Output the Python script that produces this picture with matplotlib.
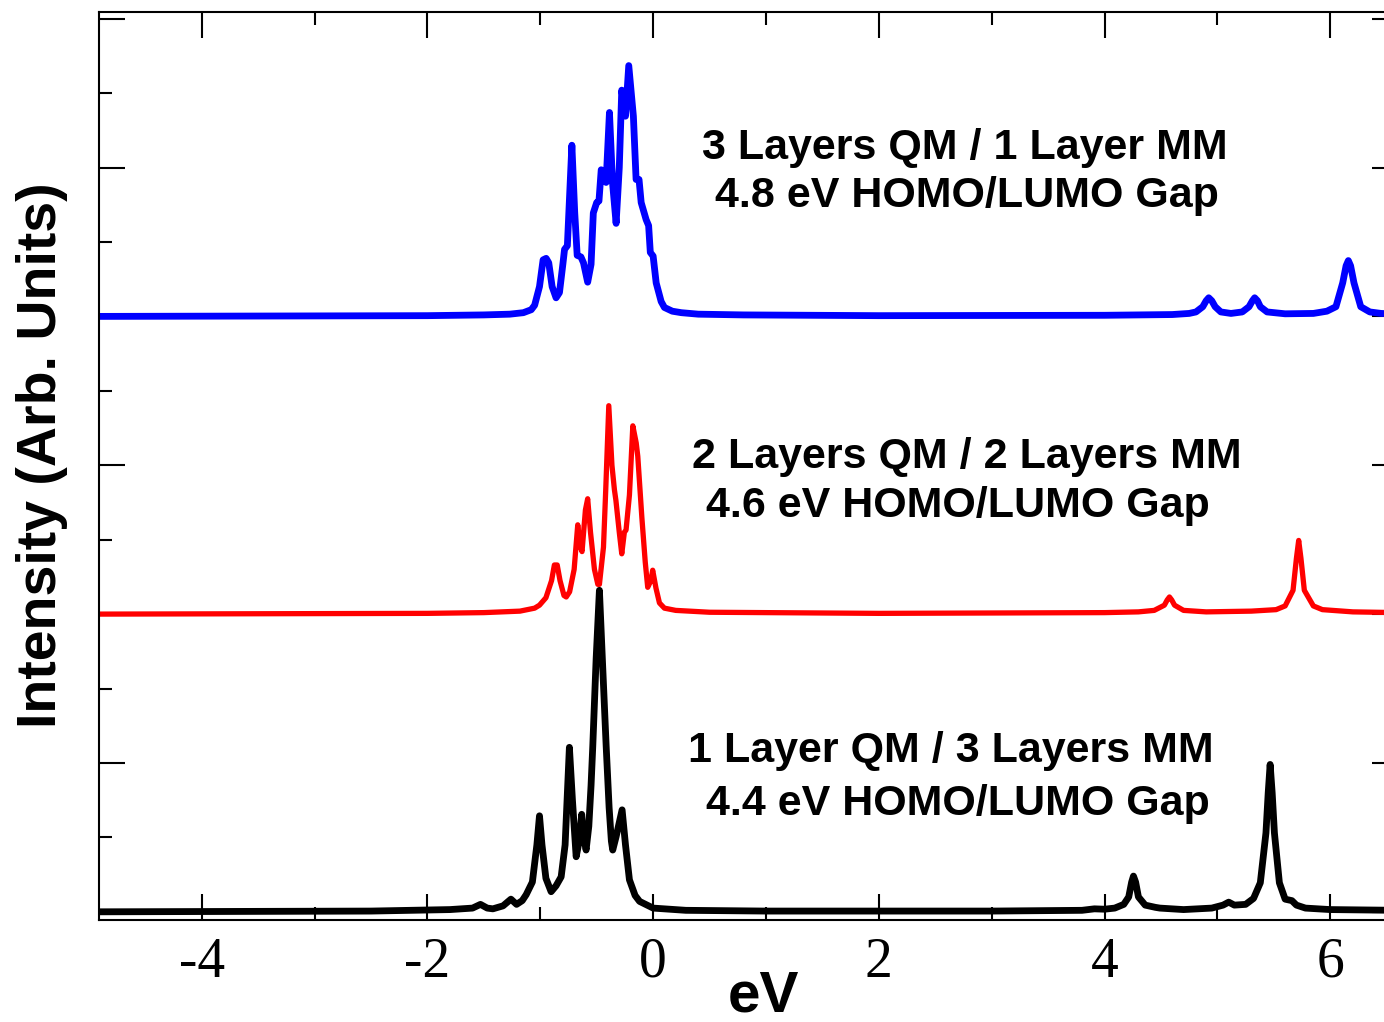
import numpy as np
import matplotlib.pyplot as plt
from matplotlib.ticker import MultipleLocator

plt.rcParams['axes.unicode_minus'] = False

# traced spectra: energy (eV) and height above each curve's own baseline (tick units)
blue_x = [-4.91, -2.0, -1.5, -1.27, -1.15, -1.08, -1.05, -1.007, -0.975, -0.948, -0.925, -0.895,
          -0.86, -0.83, -0.80, -0.785, -0.76, -0.72, -0.695, -0.673, -0.64, -0.617, -0.58,
          -0.55, -0.53, -0.50, -0.48, -0.46, -0.417, -0.387, -0.36, -0.328, -0.30, -0.278,
          -0.245, -0.216, -0.175, -0.151, -0.125, -0.106, -0.062, -0.04, -0.025, 0.0, 0.027,
          0.071, 0.10, 0.17, 0.25, 0.4, 0.8, 2.0, 4.0, 4.6, 4.75, 4.81, 4.87, 4.90, 4.923,
          4.95, 4.98, 5.03, 5.12, 5.22, 5.28, 5.31, 5.33, 5.355, 5.38, 5.44, 5.6, 5.85, 5.97,
          6.05, 6.11, 6.14, 6.16, 6.18, 6.21, 6.27, 6.35, 6.45, 6.6]
blue_y = [0.0, 0.01, 0.02, 0.03, 0.05, 0.09, 0.15, 0.40, 0.76, 0.78, 0.72, 0.40,
          0.25, 0.32, 0.70, 0.90, 0.95, 2.30, 1.40, 0.82, 0.80, 0.72, 0.46,
          0.70, 1.39, 1.53, 1.55, 1.97, 1.80, 2.74, 1.80, 1.25, 2.00, 3.04,
          2.69, 3.37, 2.69, 1.84, 1.84, 1.53, 1.30, 1.22, 0.86, 0.81, 0.45,
          0.20, 0.12, 0.07, 0.05, 0.03, 0.02, 0.01, 0.015, 0.025, 0.04, 0.06, 0.13, 0.21, 0.25,
          0.21, 0.13, 0.06, 0.04, 0.06, 0.13, 0.21, 0.25, 0.21, 0.13, 0.06, 0.035, 0.04, 0.07,
          0.13, 0.45, 0.68, 0.75, 0.68, 0.45, 0.13, 0.06, 0.04, 0.03]

red_x = [-4.91, -2.0, -1.5, -1.18, -1.05, -1.007, -0.95, -0.90, -0.875, -0.85, -0.825,
         -0.79, -0.77, -0.74, -0.70, -0.668, -0.645, -0.63, -0.60, -0.58, -0.555, -0.52,
         -0.49, -0.476, -0.44, -0.42, -0.393, -0.365, -0.343, -0.33, -0.30, -0.278, -0.255,
         -0.24, -0.21, -0.18, -0.15, -0.136, -0.10, -0.07, -0.048, -0.02, -0.004, 0.025,
         0.056, 0.10, 0.20, 0.50, 2.0, 4.0, 4.30, 4.44, 4.53, 4.555, 4.575, 4.595, 4.62,
         4.70, 4.9, 5.3, 5.52, 5.60, 5.67, 5.70, 5.72, 5.74, 5.77, 5.85, 5.93, 6.2, 6.6]
red_y = [0.0, 0.01, 0.02, 0.04, 0.08, 0.12, 0.22, 0.45, 0.66, 0.66, 0.45,
         0.25, 0.23, 0.30, 0.60, 1.20, 0.90, 0.84, 1.40, 1.55, 1.10, 0.60,
         0.40, 0.40, 0.90, 1.67, 2.80, 2.00, 1.67, 1.53, 1.10, 0.81, 1.10,
         1.13, 1.60, 2.53, 2.30, 2.12, 1.30, 0.70, 0.36, 0.45, 0.59, 0.35,
         0.15, 0.08, 0.05, 0.025, 0.01, 0.02, 0.03, 0.05, 0.12, 0.19, 0.23, 0.19, 0.12,
         0.05, 0.03, 0.04, 0.06, 0.11, 0.32, 0.75, 0.99, 0.75, 0.32, 0.11, 0.06, 0.03, 0.02]

black_x = [-4.91, -2.5, -1.8, -1.6, -1.53, -1.47, -1.42, -1.33, -1.26, -1.21, -1.16,
           -1.125, -1.07, -1.03, -1.007, -0.985, -0.95, -0.904, -0.86, -0.815, -0.78,
           -0.742, -0.715, -0.682, -0.655, -0.633, -0.615, -0.594, -0.57, -0.55, -0.535,
           -0.505, -0.476, -0.45, -0.416, -0.39, -0.37, -0.358, -0.328, -0.275, -0.245,
           -0.21, -0.16, -0.12, 0.0, 0.29, 1.0, 3.0, 3.8, 3.91, 4.0, 4.09, 4.17, 4.214,
           4.24, 4.256, 4.275, 4.30, 4.36, 4.45, 4.49, 4.7, 4.95, 5.05, 5.10, 5.15, 5.25,
           5.32, 5.38, 5.43, 5.45, 5.467, 5.485, 5.505, 5.549, 5.60, 5.66, 5.70, 5.78,
           6.0, 6.6]
black_y = [0.0, 0.01, 0.03, 0.05, 0.10, 0.05, 0.04, 0.08, 0.17, 0.10, 0.15,
           0.23, 0.40, 0.90, 1.29, 0.90, 0.45, 0.27, 0.35, 0.47, 0.90,
           2.21, 1.50, 0.74, 0.95, 1.31, 1.00, 0.83, 1.15, 1.70, 2.22,
           3.40, 4.32, 3.40, 2.22, 1.40, 0.95, 0.83, 1.01, 1.37, 0.90,
           0.43, 0.22, 0.14, 0.05, 0.02, 0.01, 0.01, 0.02, 0.04, 0.035, 0.05, 0.10, 0.20,
           0.40, 0.48, 0.40, 0.20, 0.09, 0.06, 0.05, 0.03, 0.05, 0.09, 0.13, 0.09, 0.10,
           0.18, 0.39, 1.06, 1.60, 1.98, 1.60, 1.06, 0.39, 0.17, 0.15, 0.09, 0.05,
           0.03, 0.02]

labels = ["1 Layer QM / 3 Layers MM", "2 Layers QM / 2 Layers MM", "3 Layers QM / 1 Layer MM"]
gaps = ["4.4 eV HOMO/LUMO Gap", "4.6 eV HOMO/LUMO Gap", "4.8 eV HOMO/LUMO Gap"]

offsets = [0, 4, 8]
colors = ["black", "red", "blue"]
widths = [4.9, 3.8, 4.9]

fig = plt.figure(figsize=(13.84, 10.22), dpi=100)
ax = fig.add_axes([99 / 1384, 102 / 1022, 1299 / 1384, 908 / 1022])

curves = [(black_x, black_y), (red_x, red_y), (blue_x, blue_y)]
for (xs, ys), off, c, lw in zip(curves[::-1], offsets[::-1], colors[::-1], widths[::-1]):
    ax.plot(xs, np.array(ys) + off, color=c, lw=lw)

ax.set_xlim(-4.91, 6.6)
ax.set_ylim(-0.11, 12.09)
ax.xaxis.set_major_locator(MultipleLocator(2))
ax.xaxis.set_minor_locator(MultipleLocator(1))
ax.yaxis.set_major_locator(MultipleLocator(2))
ax.yaxis.set_minor_locator(MultipleLocator(1))
ax.tick_params(which="both", direction="in", top=True, right=True, width=1.5, color="black")
ax.tick_params(which="major", length=19)
ax.tick_params(which="minor", length=9.5)
ax.tick_params(axis="x", which="major", labelsize=40, pad=12)
ax.tick_params(axis="y", labelleft=False)
for lab in ax.get_xticklabels():
    lab.set_fontfamily("Liberation Serif")
for s in ax.spines.values():
    s.set_linewidth(1.5)

# annotations (line 1 / line 2 baselines per curve)
txt_pos = [(2.64, 2.7, 2.01, 1.30), (2.78, 2.7, 5.96, 5.30), (2.76, 2.78, 10.12, 9.47)]
for lab, gap, (x1, x2, y1, y2) in zip(labels, gaps, txt_pos):
    ax.text(x1, y1, lab, ha="center", va="baseline", fontsize=31, fontweight="bold",
            family="Liberation Sans")
    ax.text(x2, y2, gap, ha="center", va="baseline", fontsize=31, fontweight="bold",
            family="Liberation Sans")

fig.text(763 / 1384, 1 - 1011 / 1022, "eV", ha="center", va="baseline", fontsize=42,
         fontweight="bold", family="Liberation Sans")
fig.text(42 / 1384, 1 - 455 / 1022, "Intensity (Arb. Units)", ha="center", va="center",
         rotation=90, fontsize=40, fontweight="bold", family="Liberation Sans")

fig.savefig("out.png", dpi=100)
